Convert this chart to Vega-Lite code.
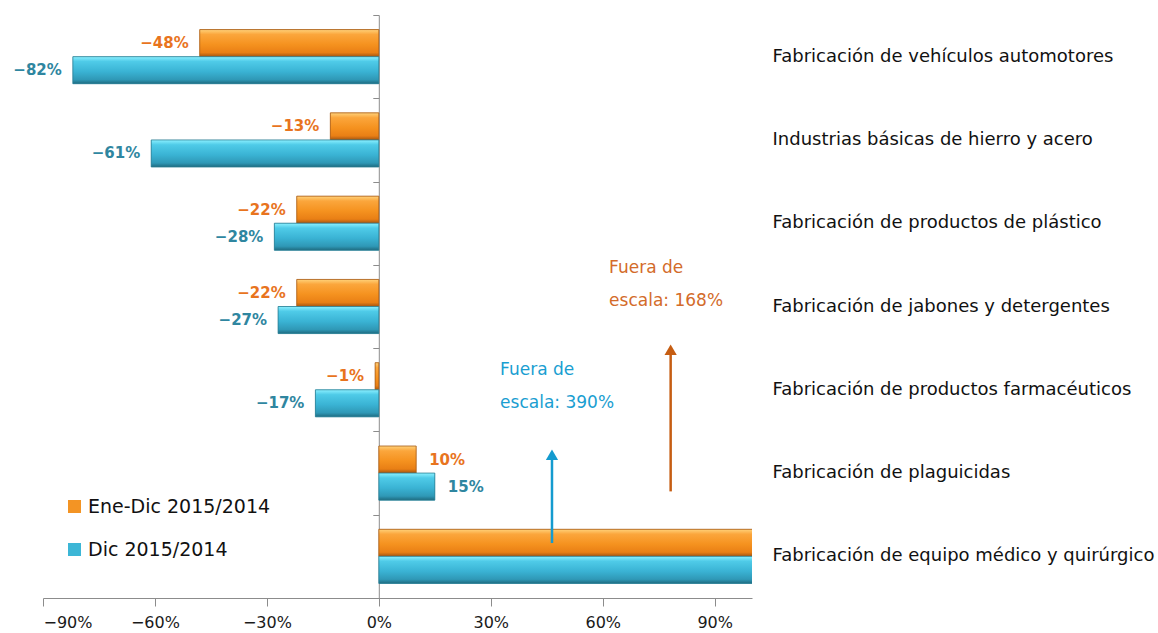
{
  "$schema": "https://vega.github.io/schema/vega-lite/v6.json",
  "width": 709,
  "height": 583,
  "autosize": {"type": "none"},
  "padding": {"left": 43, "top": 15, "right": 406, "bottom": 35},
  "background": "white",
  "datasets": {
    "bars": [
      {"cat": "Fabricación de vehículos automotores", "serie": "Ene-Dic 2015/2014", "value": -0.48},
      {"cat": "Fabricación de vehículos automotores", "serie": "Dic 2015/2014", "value": -0.82},
      {"cat": "Industrias básicas de hierro y acero", "serie": "Ene-Dic 2015/2014", "value": -0.13},
      {"cat": "Industrias básicas de hierro y acero", "serie": "Dic 2015/2014", "value": -0.61},
      {"cat": "Fabricación de productos de plástico", "serie": "Ene-Dic 2015/2014", "value": -0.22},
      {"cat": "Fabricación de productos de plástico", "serie": "Dic 2015/2014", "value": -0.28},
      {"cat": "Fabricación de jabones y detergentes", "serie": "Ene-Dic 2015/2014", "value": -0.22},
      {"cat": "Fabricación de jabones y detergentes", "serie": "Dic 2015/2014", "value": -0.27},
      {"cat": "Fabricación de productos farmacéuticos", "serie": "Ene-Dic 2015/2014", "value": -0.01},
      {"cat": "Fabricación de productos farmacéuticos", "serie": "Dic 2015/2014", "value": -0.17},
      {"cat": "Fabricación de plaguicidas", "serie": "Ene-Dic 2015/2014", "value": 0.10},
      {"cat": "Fabricación de plaguicidas", "serie": "Dic 2015/2014", "value": 0.15},
      {"cat": "Fabricación de equipo médico y quirúrgico", "serie": "Ene-Dic 2015/2014", "value": 1.68},
      {"cat": "Fabricación de equipo médico y quirúrgico", "serie": "Dic 2015/2014", "value": 3.90}
    ],
    "notes": [
      {"serie": "Dic 2015/2014", "ax": 0.464, "ay0": 0.66, "ay1": 1.72, "tx": 0.325, "ty": 2.68, "label": "Fuera de\nescala: 390%"},
      {"serie": "Ene-Dic 2015/2014", "ax": 0.782, "ay0": 1.28, "ay1": 2.98, "tx": 0.617, "ty": 3.9, "label": "Fuera de\nescala: 168%"}
    ]
  },
  "resolve": {"scale": {"y": "independent"}, "axis": {"y": "independent"}},
  "layer": [
    {
      "data": {"name": "bars"},
      "mark": {"type": "bar", "clip": true},
      "encoding": {
        "y": {"field": "cat", "type": "nominal", "title": null,
          "scale": {"domain": ["Fabricación de vehículos automotores", "Industrias básicas de hierro y acero", "Fabricación de productos de plástico", "Fabricación de jabones y detergentes", "Fabricación de productos farmacéuticos", "Fabricación de plaguicidas", "Fabricación de equipo médico y quirúrgico"], "paddingInner": 0.35, "paddingOuter": 0.175},
          "axis": {"orient": "left", "offset": -335.8, "labels": false, "ticks": true, "bandPosition": 0.5, "tickOffset": -41.65, "tickSize": 6, "domain": true, "domainColor": "#8c8c8c", "tickColor": "#8c8c8c", "grid": false}},
        "yOffset": {"field": "serie", "type": "nominal", "scale": {"domain": ["Ene-Dic 2015/2014", "Dic 2015/2014"], "paddingInner": 0, "paddingOuter": 0}},
        "x": {"field": "value", "type": "quantitative", "title": null,
          "scale": {"domain": [-0.9, 1.0], "nice": false},
          "axis": {"values": [-0.9, -0.6, -0.3, 0, 0.3, 0.6, 0.9], "format": ".0%"}},
        "color": {"field": "serie", "type": "nominal", "title": null,
          "scale": {"domain": ["Ene-Dic 2015/2014", "Dic 2015/2014"], "range": ["#F39424", "#3CB6D6"]},
          "legend": {"orient": "none", "legendX": 22, "legendY": 482, "symbolType": "square", "symbolSize": 170, "labelFontSize": 19, "labelFont": "DejaVu Sans", "labelColor": "#111111", "labelLimit": 400, "rowPadding": 23, "labelOffset": 4, "padding": 0, "symbolStrokeWidth": 0}}
      }
    },
    {
      "data": {"name": "bars"},
      "mark": {"type": "bar", "clip": true, "strokeWidth": 0.8},
      "encoding": {
        "y": {"field": "cat", "type": "nominal", "axis": null,
          "scale": {"domain": ["Fabricación de vehículos automotores", "Industrias básicas de hierro y acero", "Fabricación de productos de plástico", "Fabricación de jabones y detergentes", "Fabricación de productos farmacéuticos", "Fabricación de plaguicidas", "Fabricación de equipo médico y quirúrgico"], "paddingInner": 0.35, "paddingOuter": 0.175}},
        "yOffset": {"field": "serie", "type": "nominal", "scale": {"domain": ["Ene-Dic 2015/2014", "Dic 2015/2014"], "paddingInner": 0, "paddingOuter": 0}},
        "x": {"field": "value", "type": "quantitative", "scale": {"domain": [-0.9, 1.0], "nice": false}},
        "fill": {
          "condition": {"test": "datum.serie === 'Dic 2015/2014'", "value": {"gradient": "linear", "x1": 0, "y1": 0, "x2": 0, "y2": 1, "stops": [{"offset": 0, "color": "#8CF0FF"}, {"offset": 0.18, "color": "#4FCBE8"}, {"offset": 0.55, "color": "#3AB3D4"}, {"offset": 0.85, "color": "#2F98B6"}, {"offset": 1, "color": "#1E6B80"}]}},
          "value": {"gradient": "linear", "x1": 0, "y1": 0, "x2": 0, "y2": 1, "stops": [{"offset": 0, "color": "#FFD27A"}, {"offset": 0.18, "color": "#FBA63C"}, {"offset": 0.55, "color": "#F5921F"}, {"offset": 0.85, "color": "#E97F15"}, {"offset": 1, "color": "#A55510"}]}
        },
        "stroke": {"condition": {"test": "datum.serie === 'Dic 2015/2014'", "value": "#2A7C92"}, "value": "#A65A18"}
      }
    },
    {
      "data": {"name": "bars"},
      "transform": [{"filter": "datum.value < 0"}],
      "mark": {"type": "text", "align": "right", "baseline": "middle", "dx": -11, "font": "DejaVu Sans", "fontSize": 15, "fontWeight": "bold"},
      "encoding": {
        "y": {"field": "cat", "type": "nominal", "title": null,
          "scale": {"domain": ["Fabricación de vehículos automotores", "Industrias básicas de hierro y acero", "Fabricación de productos de plástico", "Fabricación de jabones y detergentes", "Fabricación de productos farmacéuticos", "Fabricación de plaguicidas", "Fabricación de equipo médico y quirúrgico"], "paddingInner": 0.35, "paddingOuter": 0.175},
          "axis": {"orient": "right", "offset": 20, "domain": false, "ticks": false, "tickSize": 0, "labelPadding": 0, "labelLimit": 500, "labelFont": "DejaVu Sans", "labelFontSize": 18, "labelColor": "#111111", "labelAlign": "left", "grid": false}},
        "yOffset": {"field": "serie", "type": "nominal", "scale": {"domain": ["Ene-Dic 2015/2014", "Dic 2015/2014"], "paddingInner": 0, "paddingOuter": 0}},
        "x": {"field": "value", "type": "quantitative", "scale": {"domain": [-0.9, 1.0], "nice": false}},
        "text": {"field": "value", "type": "quantitative", "format": ".0%"},
        "fill": {"condition": {"test": "datum.serie === 'Dic 2015/2014'", "value": "#2F86A0"}, "value": "#E8741E"}
      }
    },
    {
      "data": {"name": "bars"},
      "transform": [{"filter": "datum.value > 0 && datum.value < 1"}],
      "mark": {"type": "text", "align": "left", "baseline": "middle", "dx": 13, "font": "DejaVu Sans", "fontSize": 15, "fontWeight": "bold"},
      "encoding": {
        "y": {"field": "cat", "type": "nominal", "axis": null,
          "scale": {"domain": ["Fabricación de vehículos automotores", "Industrias básicas de hierro y acero", "Fabricación de productos de plástico", "Fabricación de jabones y detergentes", "Fabricación de productos farmacéuticos", "Fabricación de plaguicidas", "Fabricación de equipo médico y quirúrgico"], "paddingInner": 0.35, "paddingOuter": 0.175}},
        "yOffset": {"field": "serie", "type": "nominal", "scale": {"domain": ["Ene-Dic 2015/2014", "Dic 2015/2014"], "paddingInner": 0, "paddingOuter": 0}},
        "x": {"field": "value", "type": "quantitative", "scale": {"domain": [-0.9, 1.0], "nice": false}},
        "text": {"field": "value", "type": "quantitative", "format": ".0%"},
        "fill": {"condition": {"test": "datum.serie === 'Dic 2015/2014'", "value": "#2F86A0"}, "value": "#E8741E"}
      }
    },
    {
      "data": {"name": "notes"},
      "mark": {"type": "rule", "strokeWidth": 2.5},
      "encoding": {
        "x": {"field": "ax", "type": "quantitative", "scale": {"domain": [-0.9, 1.0], "nice": false}},
        "y": {"field": "ay0", "type": "quantitative", "axis": null, "scale": {"domain": [0, 7], "nice": false}},
        "y2": {"field": "ay1"},
        "stroke": {"condition": {"test": "datum.serie === 'Dic 2015/2014'", "value": "#149BCF"}, "value": "#C65D12"}
      }
    },
    {
      "data": {"name": "notes"},
      "mark": {"type": "point", "shape": "triangle-up", "filled": true, "size": 150, "opacity": 1},
      "encoding": {
        "x": {"field": "ax", "type": "quantitative", "scale": {"domain": [-0.9, 1.0], "nice": false}},
        "y": {"field": "ay1", "type": "quantitative", "axis": null, "scale": {"domain": [0, 7], "nice": false}},
        "fill": {"condition": {"test": "datum.serie === 'Dic 2015/2014'", "value": "#149BCF"}, "value": "#C65D12"}
      }
    },
    {
      "data": {"name": "notes"},
      "mark": {"type": "text", "align": "left", "baseline": "alphabetic", "lineBreak": "\n", "lineHeight": 33, "font": "DejaVu Sans", "fontSize": 17},
      "encoding": {
        "x": {"field": "tx", "type": "quantitative", "scale": {"domain": [-0.9, 1.0], "nice": false}},
        "y": {"field": "ty", "type": "quantitative", "axis": null, "scale": {"domain": [0, 7], "nice": false}},
        "text": {"field": "label", "type": "nominal"},
        "fill": {"condition": {"test": "datum.serie === 'Dic 2015/2014'", "value": "#1A9ED1"}, "value": "#D36B2A"}
      }
    }
  ],
  "config": {
    "view": {"stroke": null},
    "axisX": {"grid": false, "domainColor": "#8c8c8c", "tickColor": "#8c8c8c", "tickSize": 8, "labelFont": "DejaVu Sans", "labelFontSize": 16, "labelColor": "#1a1a1a", "labelPadding": 8},
    "axisY": {"grid": false}
  }
}
